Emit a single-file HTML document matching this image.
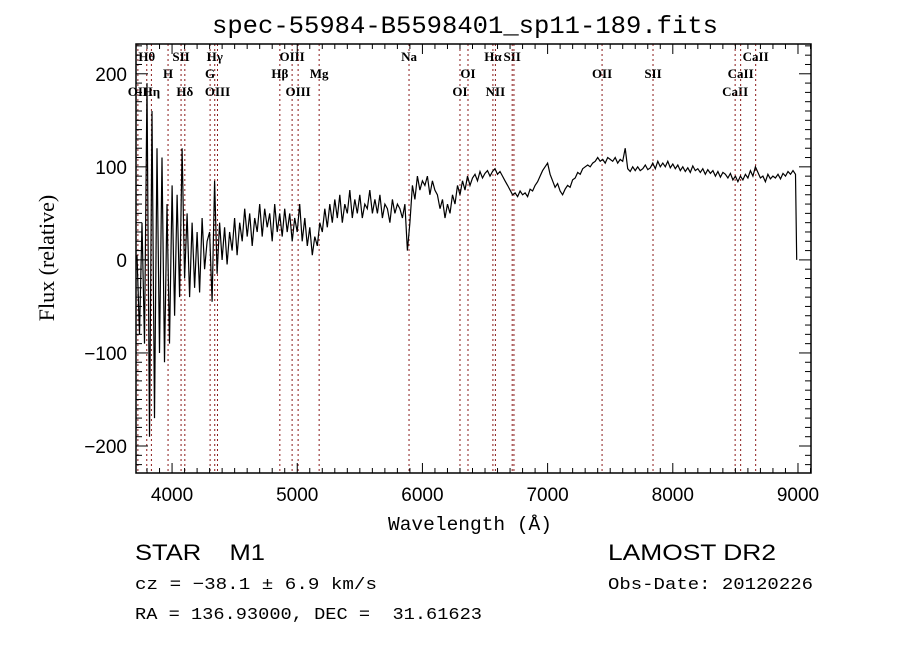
<!DOCTYPE html>
<html><head><meta charset="utf-8"><style>
html,body{margin:0;padding:0;background:#fff;}
svg{display:block;}
</style></head><body>
<svg id="chart" width="900" height="649" viewBox="0 0 900 649" xmlns="http://www.w3.org/2000/svg">
<rect width="900" height="649" fill="#fff"/>
<text x="465" y="33" text-anchor="middle" font-family="Liberation Mono, monospace" font-size="25" textLength="506" lengthAdjust="spacingAndGlyphs">spec-55984-B5598401_sp11-189.fits</text>
<g id="lines"></g>
<g id="spec"></g>
<g id="axes"></g>
<text x="470" y="530" text-anchor="middle" font-family="Liberation Mono, monospace" font-size="19" textLength="164" lengthAdjust="spacingAndGlyphs">Wavelength (Å)</text>
<text transform="translate(54,258) rotate(-90)" text-anchor="middle" font-family="Liberation Serif, serif" font-size="22">Flux (relative)</text>
<text x="135" y="560" font-family="Liberation Sans, sans-serif" font-size="22" textLength="130" lengthAdjust="spacingAndGlyphs" xml:space="preserve">STAR    M1</text>
<text x="608" y="560" font-family="Liberation Sans, sans-serif" font-size="22" textLength="168" lengthAdjust="spacingAndGlyphs">LAMOST DR2</text>
<text x="135" y="589" font-family="Liberation Mono, monospace" font-size="17" textLength="242" lengthAdjust="spacingAndGlyphs">cz = −38.1 ± 6.9 km/s</text>
<text x="608" y="589" font-family="Liberation Mono, monospace" font-size="17" textLength="205" lengthAdjust="spacingAndGlyphs">Obs-Date: 20120226</text>
<text x="135" y="619" font-family="Liberation Mono, monospace" font-size="17" textLength="347" lengthAdjust="spacingAndGlyphs" xml:space="preserve">RA = 136.93000, DEC =  31.61623</text>
</svg>
<script>
const fluxValues = [
5,-80,40,-90,
190,-190,160,-170,120,-100,
110,-110,60,-90,80,
-60,70,-40,120,-20,
50,-40,40,-30,30,
-35,45,-10,20,30,
-45,85,-15,40,0,
35,-5,30,10,45,
5,40,20,55,25,
50,15,45,30,60,
25,55,35,50,20,
60,30,50,25,55,
30,50,20,45,30,
60,20,45,15,35,
5,25,15,40,30,
55,35,60,40,65,
45,70,40,60,50,
75,45,65,50,70,
45,60,55,75,50,
65,50,70,45,60,
55,40,65,50,60,
55,45,60,10,40,
80,65,90,75,85,
80,90,70,85,75,
70,55,65,45,60,
50,70,60,80,70,
85,75,90,80,88,
92,85,95,88,93,
96,90,95,98,92,
95,90,85,80,75,
70,72,68,74,70,
72,68,76,74,80,
84,90,96,100,104,
92,85,78,82,74,
70,76,80,78,86,
88,94,92,98,100,
102,100,104,106,110,
106,108,104,110,108,
106,110,104,108,106,
120,98,95,100,96,
100,96,98,102,97,
99,104,98,106,100,
104,100,106,99,103,
98,102,96,100,95,
99,94,101,96,98,
94,98,92,97,93,
96,90,95,89,94,
92,88,93,86,90,
84,90,86,92,88,
96,90,100,94,88,
90,84,92,87,90,
88,92,87,93,90,
95,92,96,92,0
];
const waveStart = 3720;
const waveStep = 20;
const lineWaves = [3727,3798,3835,3968,4072,4102,4304,4341,4363,4861,4959,5007,5175,5893,6300,6364,6563,6583,6717,6731,7435,7842,8498,8542,8662];
const labelTexts = ["OII","Hθ","Hη","H","SII","Hδ","G","Hγ","OIII","Hβ","OIII","OIII","Mg","Na","OI","OI","Hα","NII","SII","","OII","SII","CaII","CaII","CaII"];
const labelRows = [3,1,3,2,1,3,2,1,3,2,1,3,2,1,3,2,1,3,1,0,2,2,3,2,1];
const xTicks = [4000,5000,6000,7000,8000,9000];
const yTicks = [-200,-100,0,100,200];

const L=136,R=811,T=44,B=473;
const xMin=3712,xMax=9104,yMin=-229,yMax=232;
function xs(w){return L+(w-xMin)/(xMax-xMin)*(R-L);}
function ys(v){return B-(v-yMin)/(yMax-yMin)*(B-T);}
const NS='http://www.w3.org/2000/svg';
function mk(tag,attrs,parent){const e=document.createElementNS(NS,tag);for(const k in attrs)e.setAttribute(k,attrs[k]);parent.appendChild(e);return e;}

const gl=document.getElementById('lines');
const rowY={1:61,2:78,3:96};
lineWaves.forEach((w,i)=>{
  const x=xs(w);
  const ln=mk('line',{x1:x,x2:x,y1:T,y2:B,stroke:'#8b1a1a','stroke-width':1,'stroke-dasharray':'2,3'},gl);
  
  
  if(labelTexts[i]){
    const t=mk('text',{x:x,y:rowY[labelRows[i]],'text-anchor':'middle','font-family':'Liberation Serif, serif','font-size':13,'font-weight':'bold'},gl);
    t.textContent=labelTexts[i];
    
    
  }
});

const gs=document.getElementById('spec');
let d='';
fluxValues.forEach((v,i)=>{
  let w=waveStart+i*waveStep;
  if(i===fluxValues.length-1){w-=10;}
  d+=(i?'L':'M')+xs(w).toFixed(1)+','+ys(v).toFixed(1);
});
const p=mk('path',{d:d,fill:'none',stroke:'#000','stroke-width':1.2},gs);



const ga=document.getElementById('axes');
const fr=mk('rect',{x:L,y:T,width:R-L,height:B-T,fill:'none',stroke:'#000','stroke-width':1.5},ga);


for(let w=3800;w<=9100;w+=100){
  const x=xs(w);const maj=(w%1000===0);const len=maj?10:5;
  mk('line',{x1:x,x2:x,y1:B,y2:B-len,stroke:'#000','stroke-width':1},ga);
  mk('line',{x1:x,x2:x,y1:T,y2:T+len,stroke:'#000','stroke-width':1},ga);
}
xTicks.forEach(w=>{
  const t=mk('text',{x:xs(w),y:B+28,'text-anchor':'middle','font-family':'Liberation Sans, sans-serif','font-size':19},ga);
  t.textContent=w;
  
  
});
for(let v=-220;v<=230;v+=10){
  const y=ys(v);const maj=(v%100===0);const len=maj?12:6;
  mk('line',{x1:L,x2:L+len,y1:y,y2:y,stroke:'#000','stroke-width':1},ga);
  mk('line',{x1:R,x2:R-len,y1:y,y2:y,stroke:'#000','stroke-width':1},ga);
}
yTicks.forEach(v=>{
  const t=mk('text',{x:127,y:ys(v)+7,'text-anchor':'end','font-family':'Liberation Sans, sans-serif','font-size':19},ga);
  t.textContent=v<0?'−'+Math.abs(v):v;
  
  
});
</script>
</body></html>
